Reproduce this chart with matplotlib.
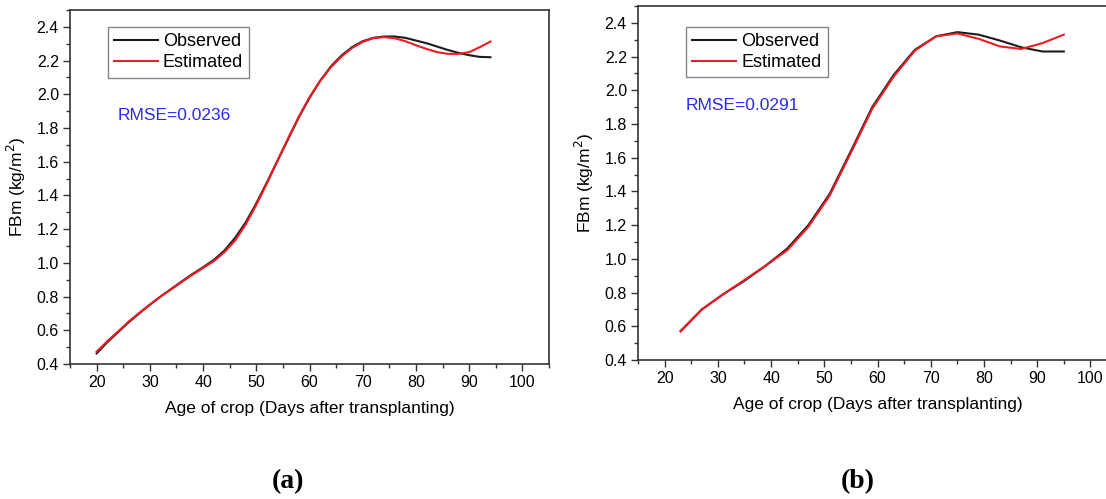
"""FBm growth curves: observed vs estimated, two panels (a) and (b)."""
import matplotlib
import matplotlib.pyplot as plt
import matplotlib.ticker as ticker

matplotlib.use("Agg")

plt.rcParams["font.family"] = ["Liberation Sans", "DejaVu Sans"]

# Panel (a) data
days_a = [20, 22, 24, 26, 28, 30, 32, 34, 36, 38, 40, 42, 44, 46, 48, 50, 52, 54, 56,
          58, 60, 62, 64, 66, 68, 70, 72, 74, 76, 78, 80, 82, 84, 86, 88, 90, 92, 94]
observed_a = [0.463, 0.529, 0.588, 0.647, 0.700, 0.752, 0.800, 0.845, 0.890, 0.934,
              0.974, 1.017, 1.073, 1.148, 1.240, 1.353, 1.478, 1.607, 1.735, 1.864,
              1.979, 2.080, 2.165, 2.230, 2.280, 2.315, 2.335, 2.343, 2.343, 2.335,
              2.319, 2.303, 2.283, 2.263, 2.246, 2.232, 2.222, 2.220]
estimated_a = [0.473, 0.535, 0.592, 0.651, 0.703, 0.752, 0.800, 0.843, 0.887, 0.930,
               0.970, 1.010, 1.063, 1.132, 1.227, 1.344, 1.472, 1.607, 1.741, 1.868,
               1.983, 2.080, 2.160, 2.224, 2.275, 2.311, 2.333, 2.339, 2.333, 2.315,
               2.291, 2.269, 2.250, 2.240, 2.240, 2.250, 2.280, 2.313]
rmse_a = "RMSE=0.0236"

# Panel (b) data
days_b = [23, 27, 31, 35, 39, 43, 47, 51, 55, 59, 63, 67, 71, 75, 79, 83, 87, 91, 95]
observed_b = [0.572, 0.700, 0.790, 0.870, 0.960, 1.060, 1.200, 1.385, 1.640, 1.900,
              2.090, 2.240, 2.320, 2.345, 2.330, 2.295, 2.255, 2.230, 2.230]
estimated_b = [0.570, 0.700, 0.790, 0.875, 0.960, 1.050, 1.190, 1.375, 1.630, 1.890,
               2.080, 2.235, 2.320, 2.337, 2.305, 2.260, 2.245, 2.280, 2.330]
rmse_b = "RMSE=0.0291"

_BLACK = "#1c1c1c"
_RED = "#ec1c24"
_BLUE = "#2a2af0"
_SPINE = "#333333"


def draw_panel(ax, days, obs, est, rmse, legend_xy, rmse_xy):
    ax.plot(days, obs, color=_BLACK, linewidth=1.5, label="Observed", zorder=3)
    ax.plot(days, est, color=_RED, linewidth=1.5, label="Estimated", zorder=4)

    ax.set_xlim(15, 105)
    ax.set_ylim(0.4, 2.5)
    ax.xaxis.set_major_locator(ticker.MultipleLocator(10))
    ax.xaxis.set_minor_locator(ticker.MultipleLocator(5))
    ax.yaxis.set_major_locator(ticker.FixedLocator([0.4, 0.6, 0.8, 1.0, 1.2, 1.4,
                                                    1.6, 1.8, 2.0, 2.2, 2.4]))
    ax.yaxis.set_minor_locator(ticker.MultipleLocator(0.1))
    ax.yaxis.set_major_formatter(ticker.FormatStrFormatter("%.1f"))
    ax.xaxis.set_major_formatter(ticker.FormatStrFormatter("%d"))

    ax.tick_params(which="major", direction="out", length=5, width=1.0,
                   color=_SPINE, labelsize=11.5, pad=3)
    ax.tick_params(which="minor", direction="out", length=3, width=1.0, color=_SPINE)
    for spine in ax.spines.values():
        spine.set_color(_SPINE)
        spine.set_linewidth(1.2)

    ax.set_xlabel("Age of crop (Days after transplanting)", fontsize=12.5, labelpad=8)
    ax.set_ylabel("FBm (kg/m$^2$)", fontsize=12.5, labelpad=6)

    leg = ax.legend(loc="upper left", bbox_to_anchor=legend_xy, fontsize=13,
                    frameon=True, fancybox=False, edgecolor="#666666",
                    borderpad=0.35, handlelength=2.4, handletextpad=0.3,
                    labelspacing=0.22, borderaxespad=0)
    leg.get_frame().set_linewidth(1.0)

    ax.text(rmse_xy[0], rmse_xy[1], rmse, transform=ax.transAxes, color=_BLUE,
            fontsize=12.5, va="center", ha="left")


fig = plt.figure(figsize=(11.06, 4.99), dpi=100)
fig.patch.set_facecolor("white")

ax_a = fig.add_axes([0.0633, 0.2705, 0.4331, 0.7094])
ax_b = fig.add_axes([0.5769, 0.2786, 0.4331, 0.7094])

draw_panel(ax_a, days_a, observed_a, estimated_a, rmse_a, (0.079, 0.952), (0.1, 0.703))
draw_panel(ax_b, days_b, observed_b, estimated_b, rmse_b, (0.100, 0.941), (0.1, 0.7175))

fig.text(288 / 1106, 1 - 482 / 499, "(a)", fontsize=20, fontweight="bold",
         family=["Liberation Serif", "DejaVu Serif"], ha="center", va="center")
fig.text(858 / 1106, 1 - 482 / 499, "(b)", fontsize=20, fontweight="bold",
         family=["Liberation Serif", "DejaVu Serif"], ha="center", va="center")

fig.savefig("out.png", dpi=100, facecolor="white")
plt.close(fig)
